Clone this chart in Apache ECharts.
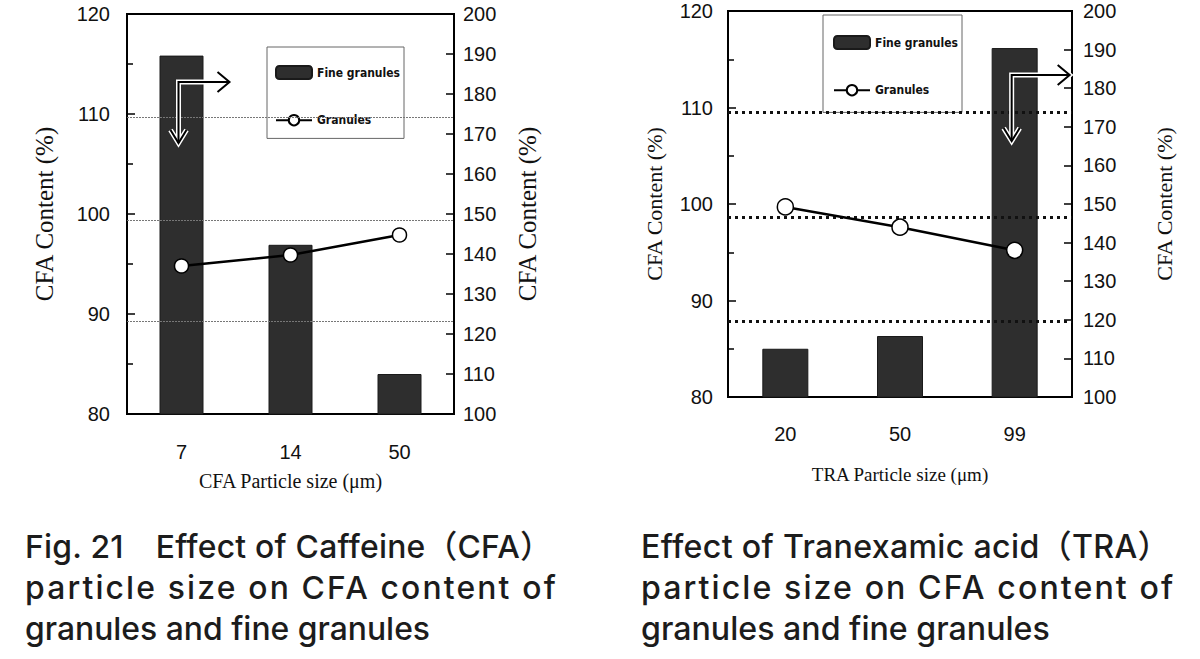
<!DOCTYPE html>
<html>
<head>
<meta charset="utf-8">
<script src="https://cdn.jsdelivr.net/npm/echarts@6/dist/echarts.min.js"></script>
<style>
html, body { margin: 0; padding: 0; background: #fff; }
#wrap { position: relative; width: 1200px; height: 659px; overflow: hidden; }
#chart { position: absolute; left: 0; top: 0; width: 1200px; height: 659px; }
.cap { position: absolute; top: 526px; font-family: Inter, "Noto Sans CJK JP", sans-serif; font-size: 29px; font-weight: 500; color: #1c1c1c; line-height: 41px; }
.cap div { white-space: nowrap; display: block; width: max-content; }
</style>
</head>
<body>
<div id="wrap">
  <div id="chart"></div>
  <div class="cap" style="left:25px">
    <div data-w="527">Fig. 21　Effect of Caffeine（CFA）</div>
    <div data-w="533">particle size on CFA content of</div>
    <div data-w="405">granules and fine granules</div>
  </div>
  <div class="cap" style="left:641px">
    <div data-w="529">Effect of Tranexamic acid（TRA）</div>
    <div data-w="534">particle size on CFA content of</div>
    <div data-w="409">granules and fine granules</div>
  </div>
</div>
<script>
// left chart: caffeine
var cfaSizes = ['7', '14', '50'];
var cfaFine = [189.6, 142.3, 110.0];      // right axis
var cfaGranules = [94.8, 95.9, 97.9];     // left axis
var cfaGrid = [109.65, 99.4, 89.3];       // dotted reference lines (left axis)

// right chart: tranexamic acid
var traSizes = ['20', '50', '99'];
var traFine = [112.5, 115.8, 190.4];
var traGranules = [99.7, 97.6, 95.2];
var traGrid = [109.5, 98.6, 87.8];

// axis ranges
var leftRange = [80, 120, 10];
var rightRange = [100, 200, 10];

var seriesNames = ['Fine granules', 'Granules'];

var sans = 'Liberation Sans, Arial, sans-serif';
var serif = 'Liberation Serif, Times New Roman, serif';
var narrow = 'Liberation Sans Narrow, DejaVu Sans Condensed, sans-serif';

// caption: font size from the last (unspaced) line, letter spacing for the others
function fitCaptions() {
    document.querySelectorAll('.cap').forEach(function (cap) {
        var lines = cap.querySelectorAll('div');
        lines.forEach(function (el) { el.style.letterSpacing = '0px'; });
        cap.style.fontSize = '29px';
        var last = lines[lines.length - 1];
        var w = last.getBoundingClientRect().width;
        cap.style.fontSize = (29 * (+last.dataset.w) / w).toFixed(2) + 'px';
        for (var i = 0; i < lines.length - 1; i++) {
            var el = lines[i];
            var natural = el.getBoundingClientRect().width;
            el.style.letterSpacing = ((+el.dataset.w - natural) / el.textContent.length).toFixed(2) + 'px';
        }
    });
}
fitCaptions();
if (document.fonts) document.fonts.ready.then(fitCaptions);

var chart = echarts.init(document.getElementById('chart'), null, { renderer: 'svg' });

function xAxis(idx, data, name, gap, margin, nameSize) {
    return {
        gridIndex: idx, type: 'category', data: data,
        name: name, nameLocation: 'middle', nameGap: gap,
        nameTextStyle: { fontFamily: serif, fontSize: nameSize, color: '#111' },
        axisLine: { lineStyle: { color: '#000', width: 2 } },
        axisTick: { show: false },
        axisLabel: { fontFamily: sans, fontSize: 20, color: '#111', margin: margin },
        splitLine: { show: false }
    };
}

function yAxis(idx, pos, range, gap, margin, minor, nameSize) {
    return {
        gridIndex: idx, type: 'value', position: pos,
        min: range[0], max: range[1], interval: range[2],
        name: 'CFA Content (%)', nameLocation: 'middle', nameGap: gap, nameRotate: 90,
        nameTextStyle: { fontFamily: serif, fontSize: nameSize, color: '#111' },
        axisLine: { show: true, lineStyle: { color: '#000', width: 2 } },
        axisTick: { show: true, inside: true, length: 8, lineStyle: { color: '#000', width: 1.5 } },
        minorTick: { show: minor, splitNumber: 2, length: 6, lineStyle: { color: '#000', width: 1.5 } },
        axisLabel: { fontFamily: sans, fontSize: 20, color: '#111', margin: margin },
        splitLine: { show: false }
    };
}

function refLines(values, style) {
    return {
        silent: true, symbol: 'none', label: { show: false },
        lineStyle: style,
        data: values.map(function (v) { return { yAxis: v }; })
    };
}

function legend(left, top, pad, gap, size) {
    return {
        orient: 'vertical', left: left, top: top, padding: pad, itemGap: gap,
        itemWidth: 36, itemHeight: 13,
        borderColor: '#666', borderWidth: 1,
        textStyle: { fontFamily: narrow, fontSize: size, color: '#111', fontWeight: 'bold' },
        data: seriesNames
    };
}

var barStyle = { color: '#2e2e2e', borderColor: '#1a1a1a', borderWidth: 1 };

chart.setOption({
    animation: false,
    grid: [
        { left: 127, top: 14, width: 327, height: 400, show: true, borderColor: '#000', borderWidth: 2 },
        { left: 728, top: 11, width: 344, height: 386, show: true, borderColor: '#000', borderWidth: 2 }
    ],
    legend: [
        legend(267, 47, [18, 4, 12, 8], 34, 12),
        legend(823, 15, [20, 4, 16, 10], 34, 12)
    ],
    xAxis: [
        xAxis(0, cfaSizes, 'CFA Particle size (μm)', 57, 28, 20),
        xAxis(1, traSizes, 'TRA Particle size (μm)', 68, 27, 19)
    ],
    yAxis: [
        yAxis(0, 'left', leftRange, 70, 17, true, 25),
        yAxis(0, 'right', rightRange, 61, 9, false, 25),
        yAxis(1, 'left', leftRange, 63, 15, true, 22),
        yAxis(1, 'right', rightRange, 81, 11, false, 22)
    ],
    series: [
        {
            name: seriesNames[0], type: 'bar', xAxisIndex: 0, yAxisIndex: 1,
            data: cfaFine, barWidth: 44, itemStyle: barStyle
        },
        {
            name: seriesNames[1], type: 'line', xAxisIndex: 0, yAxisIndex: 0,
            data: cfaGranules, symbol: 'circle', symbolSize: 14,
            lineStyle: { color: '#000', width: 2.5 },
            itemStyle: { color: '#fff', borderColor: '#000', borderWidth: 1.5 },
            markLine: refLines(cfaGrid, { color: '#777', width: 1, type: [2, 1] }),
            z: 5
        },
        {
            name: seriesNames[0], type: 'bar', xAxisIndex: 1, yAxisIndex: 3,
            data: traFine, barWidth: 46, itemStyle: barStyle
        },
        {
            name: seriesNames[1], type: 'line', xAxisIndex: 1, yAxisIndex: 2,
            data: traGranules, symbol: 'circle', symbolSize: 16,
            lineStyle: { color: '#000', width: 2.5 },
            itemStyle: { color: '#fff', borderColor: '#000', borderWidth: 1.5 },
            markLine: refLines(traGrid, { color: '#111', width: 3, type: [3, 4] }),
            z: 5
        }
    ]
});

// L-shaped arrows pointing to the right axis, anchored on the tall bar
function arrow(p, rightLen, downLen) {
    var x = p[0] - 3, y = p[1];
    var pts = [
        [[x + rightLen, y], [x, y], [x, y + downLen]],
        [[x + rightLen - 12, y - 10], [x + rightLen, y], [x + rightLen - 12, y + 10]],
        [[x - 8, y + downLen - 13], [x, y + downLen], [x + 8, y + downLen - 13]]
    ];
    var out = [];
    pts.forEach(function (pp) {
        out.push({ type: 'polyline', shape: { points: pp }, style: { stroke: '#fff', lineWidth: 5, fill: null }, z: 10 });
    });
    pts.forEach(function (pp) {
        out.push({ type: 'polyline', shape: { points: pp }, style: { stroke: '#000', lineWidth: 2, fill: null }, z: 11 });
    });
    return out;
}

var a1 = chart.convertToPixel({ xAxisIndex: 0, yAxisIndex: 1 }, [cfaSizes[0], 183]);
var a2 = chart.convertToPixel({ xAxisIndex: 1, yAxisIndex: 3 }, [traSizes[2], 183.4]);
chart.setOption({ graphic: arrow(a1, 51, 61).concat(arrow(a2, 58, 66)) });
</script>
</body>
</html>
